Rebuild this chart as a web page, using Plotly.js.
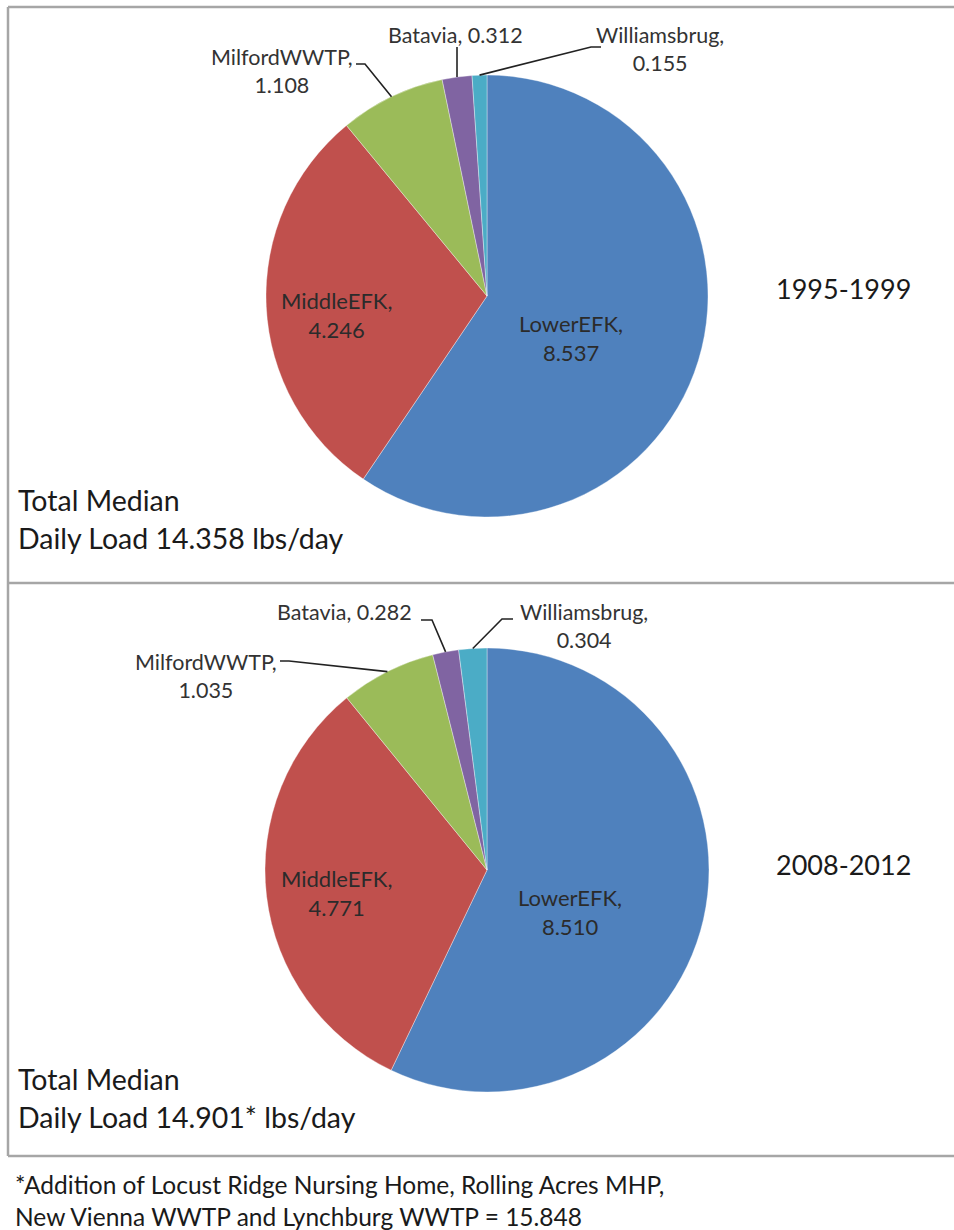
<!DOCTYPE html>
<html>
<head>
<meta charset="utf-8">
<script src="https://cdn.plot.ly/plotly-3.0.1.min.js"></script>
<style>html,body{margin:0;padding:0;background:#fff;}#chart{width:954px;height:1230px;}</style>
</head>
<body>
<div id="chart"></div>
<script>
// ---- data ----
const categories = ['LowerEFK', 'MiddleEFK', 'MilfordWWTP', 'Batavia', 'Williamsbrug'];
const load1995 = [8.537, 4.246, 1.108, 0.312, 0.155];
const load2008 = [8.510, 4.771, 1.035, 0.282, 0.304];
const periods = ['1995-1999', '2008-2012'];
const totalLoads = ['14.358', '14.901*'];
const footnoteLines = ['*Addition of Locust Ridge Nursing Home, Rolling Acres MHP,',
                       'New Vienna WWTP and Lynchburg WWTP = 15.848'];
const sliceColors = ['#4F81BD', '#C0504D', '#9BBB59', '#8064A2', '#4BACC6'];

// ---- layout helpers ----
const W = 954, H = 1230;
const px = x => x / W;
const py = y => 1 - y / H;
const FONT = 'Lato, "Open Sans", sans-serif';

const pies = [
  {values: load1995, cx: 487, cy: 296, r: 221,
   inside: [[571, 338], [336, 315]],
   outside: [
     {pos: [282, 71], lines: 2, leader: [[356, 64], [365, 64]]},
     {pos: [455, 35], lines: 1, leader: [[457, 47]]},
     {pos: [660, 49], lines: 2, leader: [[601, 47], [591, 47]]}
   ],
   period: [843, 288], total: [16, 500]},
  {values: load2008, cx: 487, cy: 870, r: 222,
   inside: [[570, 912], [336, 893]],
   outside: [
     {pos: [206, 676], lines: 2, leader: [[280, 661], [289, 661]]},
     {pos: [344, 612], lines: 1, leader: [[421, 620], [432, 620]]},
     {pos: [584, 626], lines: 2, leader: [[513, 619], [502, 619]]}
   ],
   period: [843, 864], total: [16, 1079]}
];

const traces = [];
const annotations = [];
const shapes = [];

function label(x, y, text, size, color, xanchor) {
  annotations.push({x: px(x), y: py(y), xref: 'paper', yref: 'paper',
    xanchor: xanchor || 'center', yanchor: 'middle', align: xanchor || 'center',
    text: text, showarrow: false, font: {family: FONT, size: size, color: color}});
}

pies.forEach((p, k) => {
  traces.push({
    type: 'pie',
    values: p.values,
    labels: categories,
    sort: false,
    direction: 'clockwise',
    rotation: 0,
    textinfo: 'none',
    hoverinfo: 'label+value',
    showlegend: false,
    marker: {colors: sliceColors, line: {color: 'rgba(255,255,255,0.6)', width: 0.6}},
    domain: {x: [px(p.cx - p.r), px(p.cx + p.r)], y: [py(p.cy + p.r), py(p.cy - p.r)]}
  });
  const total = p.values.reduce((a, b) => a + b, 0);
  let cum = 0;
  const mids = p.values.map(v => { const m = (cum + v / 2) / total; cum += v; return m * 2 * Math.PI; });

  // inside labels (LowerEFK, MiddleEFK)
  p.inside.forEach((pos, i) => {
    label(pos[0], pos[1], categories[i] + ',<br>' + p.values[i].toFixed(3), 22, '#2b2b2b');
  });
  // outside labels + leader lines
  p.outside.forEach((o, j) => {
    const i = j + 2;
    const txt = o.lines === 2 ? categories[i] + ',<br>' + p.values[i].toFixed(3)
                              : categories[i] + ', ' + p.values[i].toFixed(3);
    label(o.pos[0], o.pos[1], txt, 21.5, '#333');
    const ex = p.cx + p.r * Math.sin(mids[i]);
    const ey = p.cy - p.r * Math.cos(mids[i]);
    const pts = o.leader.concat([[ex, ey]]);
    const path = pts.map((q, n) => (n ? 'L' : 'M') + px(q[0]).toFixed(5) + ',' + py(q[1]).toFixed(5)).join(' ');
    shapes.push({type: 'path', xref: 'paper', yref: 'paper', path: path,
      line: {color: '#222', width: 1.6}});
  });
  label(p.period[0], p.period[1], periods[k], 27, '#1a1a1a');
  label(p.total[0], p.total[1], 'Total Median', 28.5, '#1a1a1a', 'left');
  label(p.total[0], p.total[1] + 38, 'Daily Load ' + totalLoads[k] + ' lbs/day', 28.5, '#1a1a1a', 'left');
});

// footnote
footnoteLines.forEach((t, i) => label(13, 1184 + i * 32, t, 24.5, '#1a1a1a', 'left'));

// frame
const frameColor = '#a6a6a6';
[[8, 7, 960, 7], [8, 583, 960, 583], [8, 1156, 960, 1156], [8, 7, 8, 1156]].forEach(s => {
  shapes.push({type: 'line', xref: 'paper', yref: 'paper',
    x0: px(s[0]), y0: py(s[1]), x1: px(s[2]), y1: py(s[3]),
    line: {color: frameColor, width: 2.5}});
});

Plotly.newPlot('chart', traces, {
  width: W, height: H,
  margin: {l: 0, r: 0, t: 0, b: 0},
  paper_bgcolor: '#fff',
  showlegend: false,
  annotations: annotations,
  shapes: shapes
}, {staticPlot: true});
</script>
</body>
</html>
